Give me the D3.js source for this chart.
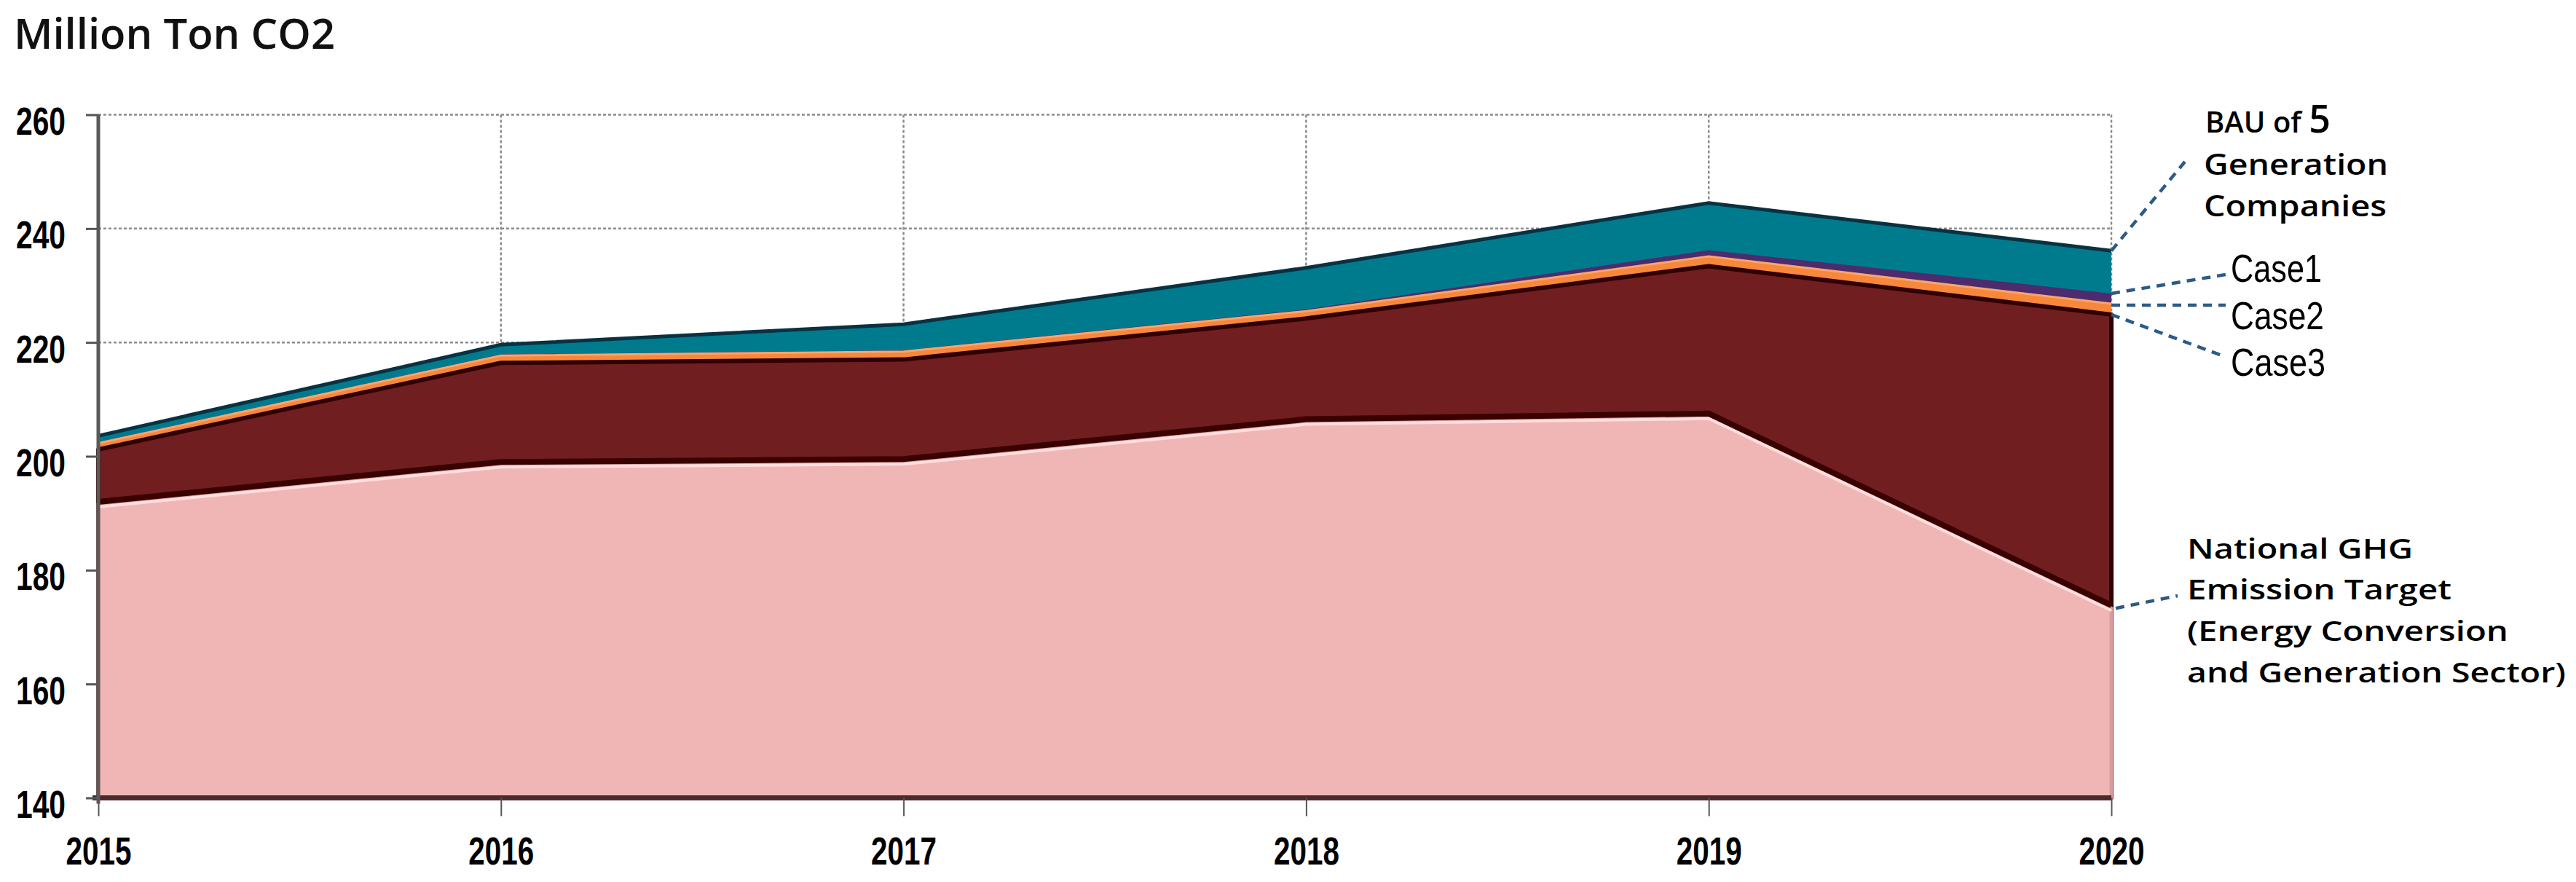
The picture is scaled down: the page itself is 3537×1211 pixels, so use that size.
<!DOCTYPE html>
<html>
<head>
<meta charset="utf-8">
<script src="https://cdn.jsdelivr.net/npm/d3@7"></script>
<style>
  html, body { margin: 0; padding: 0; background: #ffffff; }
  svg { display: block; }
</style>
</head>
<body>
<svg id="chart" width="3537" height="1211"></svg>
<script>
// ---- data (Million Ton CO2) ----
const years   = [2015, 2016, 2017, 2018, 2019, 2020];
const bau     = [203.6, 219.6, 223.2, 233.1, 244.5, 236.1];
const case1   = [202.5, 217.9, 218.6, 225.8, 236.2, 228.6];
const case2   = [202.3, 217.7, 218.4, 225.5, 235.1, 226.8];
const case3   = [201.2, 216.4, 217.0, 224.2, 233.4, 224.9];
const target  = [191.5, 198.5, 199.0, 206.0, 207.0, 173.3];
const yTicks  = [140, 160, 180, 200, 220, 240, 260];
const xTicks  = years;
const unitLabel = "Million Ton CO2";

(function () {
const svg = d3.select("#chart");
const pLeft = 135, pRight = 2899, pTop = 157.5, pBottom = 1095.5;

const x = d3.scaleLinear().domain([2015, 2020]).range([pLeft, pRight]);
const y = d3.scaleLinear().domain([140, 260]).range([pBottom, pTop]);

// gridlines (dotted)
const grid = svg.append("g");
grid.selectAll("line.h").data(yTicks.filter(d => d > 140)).join("line")
  .attr("x1", pLeft).attr("x2", pRight)
  .attr("y1", d => y(d)).attr("y2", d => y(d))
  .attr("stroke", "#8c8c8c").attr("stroke-width", 2.5).attr("stroke-dasharray", "4,3");
grid.selectAll("line.v").data(xTicks.filter(d => d > 2015)).join("line")
  .attr("x1", d => x(d)).attr("x2", d => x(d))
  .attr("y1", y(260)).attr("y2", y(140))
  .attr("stroke", "#8c8c8c").attr("stroke-width", 2.5).attr("stroke-dasharray", "4,3");

function areaOf(vals) {
  return d3.area()
    .x((d, i) => x(years[i]))
    .y0(y(140))
    .y1(d => y(d))(vals);
}
function lineOf(vals) {
  return d3.line().x((d, i) => x(years[i])).y(d => y(d))(vals);
}

const layers = svg.append("g");
// BAU - teal
layers.append("path").attr("d", areaOf(bau)).attr("fill", "#007b8e");
layers.append("path").attr("d", lineOf(bau)).attr("fill", "none")
  .attr("stroke", "#0b3141").attr("stroke-width", 5);
// Case1 - purple
layers.append("path").attr("d", areaOf(case1)).attr("fill", "#4c2b6e");
// Case2 - orange
layers.append("path").attr("d", areaOf(case2)).attr("fill", "#f7873a");
layers.append("path").attr("d", lineOf(case2)).attr("fill", "none")
  .attr("stroke", "#f9a56e").attr("stroke-width", 3);
// Case3 - maroon with dark outline
layers.append("path").attr("d", areaOf(case3)).attr("fill", "#701e20")
  .attr("stroke", "#300000").attr("stroke-width", 6).attr("stroke-linejoin", "round");
// National target - pink
layers.append("path").attr("d", areaOf(target)).attr("fill", "#f0b6b6")
  .attr("stroke", "#d99c9c").attr("stroke-width", 5);
layers.append("path").attr("d", lineOf(target)).attr("fill", "none")
  .attr("transform", "translate(0,-4)")
  .attr("stroke", "#3a0000").attr("stroke-width", 8);
layers.append("path").attr("d", lineOf(target)).attr("fill", "none")
  .attr("transform", "translate(0,3)")
  .attr("stroke", "#ffdede").attr("stroke-width", 4);

// x axis baseline
svg.append("line").attr("x1", pLeft - 8).attr("x2", pRight)
  .attr("y1", y(140)).attr("y2", y(140))
  .attr("stroke", "#4d2a2a").attr("stroke-width", 7);

// y axis
const yAxis = svg.append("g").attr("transform", `translate(${pLeft},0)`)
  .call(d3.axisLeft(y).tickValues(yTicks).tickSize(17).tickPadding(28));
yAxis.select(".domain").remove();
yAxis.selectAll(".tick line").attr("stroke", "#555").attr("stroke-width", 3);
yAxis.selectAll(".tick text")
  .attr("dy", "0.5em")
  .attr("fill", "#000")
  .attr("font-family", "'Liberation Sans', Arial, sans-serif")
  .attr("font-weight", "bold")
  .attr("font-size", 54)
  .attr("textLength", 68).attr("lengthAdjust", "spacingAndGlyphs");
svg.append("line").attr("x1", pLeft).attr("x2", pLeft)
  .attr("y1", y(260)).attr("y2", y(140) + 8)
  .attr("stroke", "#5a5a5a").attr("stroke-width", 5);

// x axis
const xAxis = svg.append("g").attr("transform", `translate(0,${y(140)})`)
  .call(d3.axisBottom(x).tickValues(xTicks).tickFormat(d3.format("d")).tickSize(25));
xAxis.select(".domain").remove();
xAxis.selectAll(".tick line").attr("stroke", "#555").attr("stroke-width", 2);
xAxis.selectAll(".tick text")
  .attr("y", 91).attr("dy", 0)
  .attr("fill", "#000")
  .attr("font-family", "'Liberation Sans', Arial, sans-serif")
  .attr("font-weight", "bold")
  .attr("font-size", 54)
  .attr("textLength", 90).attr("lengthAdjust", "spacingAndGlyphs");

// unit title
svg.append("text").attr("x", 19).attr("y", 67)
  .attr("font-family", "'Open Sans', 'Noto Sans', sans-serif")
  .attr("font-weight", 600).attr("font-size", 58).attr("fill", "#111")
  .text(unitLabel);

// annotations
const ann = svg.append("g").attr("fill", "#000")
  .attr("font-family", "'Open Sans', 'Noto Sans', sans-serif").attr("font-weight", 600);
const last = years.length - 1;
const xe = x(2020);
const leader = (x1, y1, x2, y2) => svg.append("line")
  .attr("x1", x1).attr("y1", y1).attr("x2", x2).attr("y2", y2)
  .attr("stroke", "#2d5a86").attr("stroke-width", 4.5).attr("stroke-dasharray", "12,9");

leader(xe, y(bau[last]), 3000, 222);
leader(xe, y(case1[last]), 3056, 377);
leader(xe, y(case2[last]) + 2, 3056, y(case2[last]) + 2);
leader(xe, y(case3[last]), 3056, 490);
leader(xe + 6, y(target[last]), 2990, 818);

const bauT = ann.append("text").attr("x", 3028).attr("y", 182).attr("font-size", 40);
bauT.append("tspan").text("BAU of ");
bauT.append("tspan").attr("font-size", 52).text("5");
ann.append("text").attr("x", 3026).attr("y", 240).attr("font-size", 40)
  .attr("textLength", 253).attr("lengthAdjust", "spacingAndGlyphs").text("Generation");
ann.append("text").attr("x", 3026).attr("y", 297).attr("font-size", 40)
  .attr("textLength", 251).attr("lengthAdjust", "spacingAndGlyphs").text("Companies");

const caseLabels = [["Case1", 387, 125], ["Case2", 452, 128], ["Case3", 516, 130]];
caseLabels.forEach(([t, yy, w]) => {
  svg.append("text").attr("x", 3063).attr("y", yy)
    .attr("font-family", "'Liberation Sans', Arial, sans-serif")
    .attr("font-size", 54).attr("fill", "#000")
    .attr("textLength", w).attr("lengthAdjust", "spacingAndGlyphs").text(t);
});

const tgt = [["National GHG", 767, 310], ["Emission Target", 823, 363],
             ["(Energy Conversion", 880, 441], ["and Generation Sector)", 937, 520]];
tgt.forEach(([t, yy, w]) => {
  ann.append("text").attr("x", 3003).attr("y", yy).attr("font-size", 38)
    .attr("textLength", w).attr("lengthAdjust", "spacingAndGlyphs").text(t);
});
})();
</script>
</body>
</html>
